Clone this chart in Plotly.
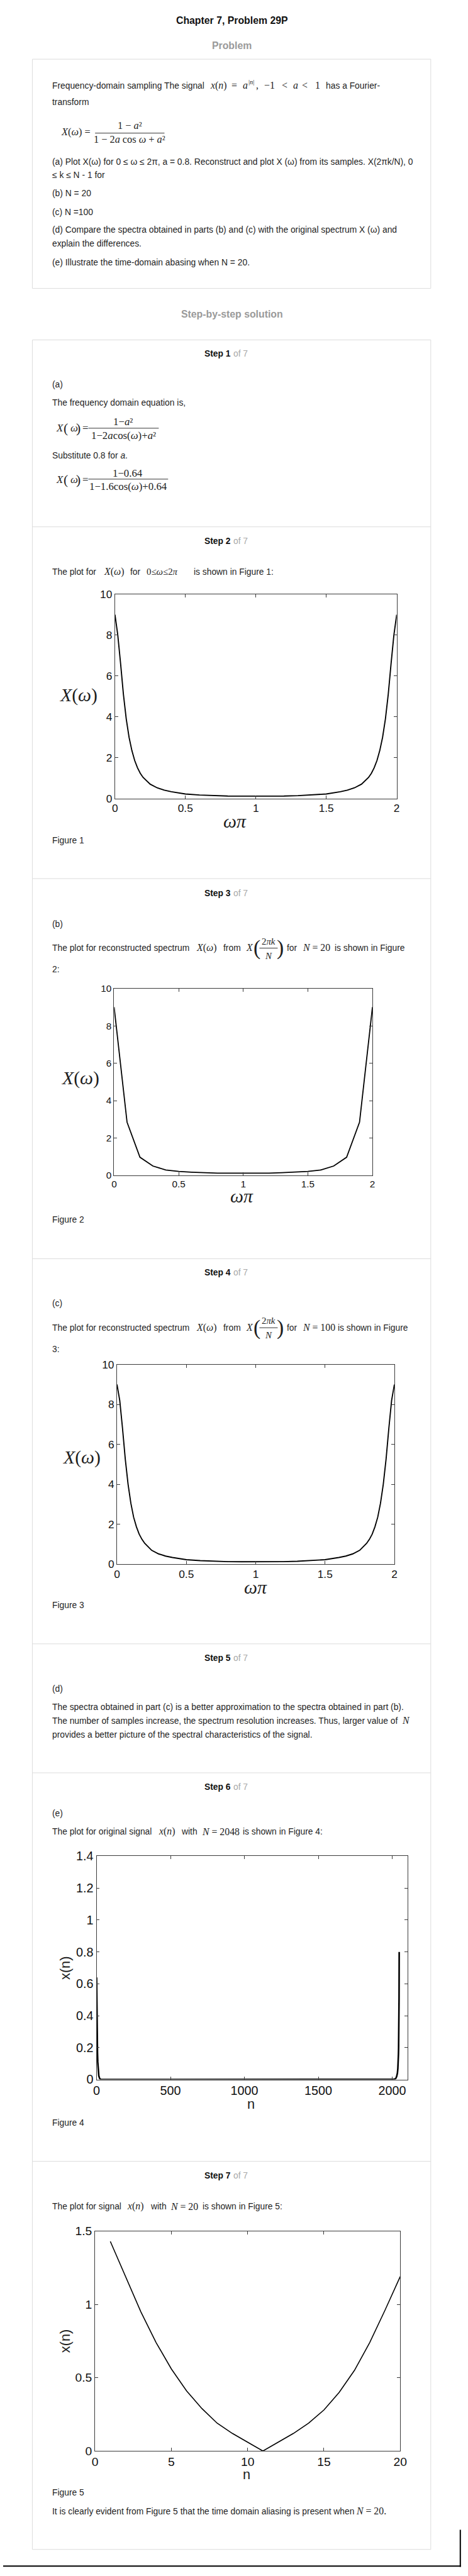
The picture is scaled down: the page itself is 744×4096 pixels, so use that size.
import plotly.graph_objects as go

S = 0.989
W, H = 744, 4096
SANS = "Liberation Sans, Arial, sans-serif"
SERIF = "Liberation Serif, Times New Roman, serif"
TXT = "#1e1e1e"
GRAY = "#9a9a9a"
BORDER = "#dcdcdc"

# ---------------- data ----------------
fig1_w = [0, 0.02, 0.04, 0.06, 0.08, 0.10, 0.12, 0.14, 0.16, 0.18, 0.20,
          0.25, 0.30, 0.35, 0.40, 0.50, 0.60, 0.70, 0.80, 0.90, 1.00,
          1.10, 1.20, 1.30, 1.40, 1.50, 1.60, 1.65, 1.70, 1.75,
          1.80, 1.82, 1.84, 1.86, 1.88, 1.90, 1.92, 1.94, 1.96, 1.98, 2.00]
fig1_X = [9.0, 8.0, 6.6, 5.1, 3.9, 3.0, 2.35, 1.86, 1.5, 1.23, 1.03,
          0.7, 0.52, 0.41, 0.33, 0.22, 0.17, 0.14, 0.12, 0.115, 0.11,
          0.115, 0.12, 0.14, 0.17, 0.22, 0.33, 0.41, 0.52, 0.7,
          1.03, 1.23, 1.5, 1.86, 2.35, 3.0, 3.9, 5.1, 6.6, 8.0, 9.0]

fig2_w = [0.0, 0.1, 0.2, 0.3, 0.4, 0.5, 0.6, 0.7, 0.8, 0.9, 1.0,
          1.1, 1.2, 1.3, 1.4, 1.5, 1.6, 1.7, 1.8, 1.9, 2.0]
fig2_X = [9.0, 2.85, 0.97, 0.5, 0.29, 0.21, 0.17, 0.14, 0.12, 0.115, 0.11,
          0.115, 0.12, 0.14, 0.17, 0.21, 0.29, 0.5, 0.97, 2.85, 9.0]

fig3_w = [0, 0.02, 0.04, 0.06, 0.08, 0.10, 0.12, 0.14, 0.16, 0.18, 0.20,
          0.25, 0.30, 0.35, 0.40, 0.50, 0.60, 0.70, 0.80, 0.90, 1.00,
          1.10, 1.20, 1.30, 1.40, 1.50, 1.60, 1.65, 1.70, 1.75,
          1.80, 1.82, 1.84, 1.86, 1.88, 1.90, 1.92, 1.94, 1.96, 1.98, 2.00]
fig3_X = [9.0, 8.2, 6.8, 5.25, 4.0, 3.05, 2.35, 1.87, 1.5, 1.24, 1.04,
          0.69, 0.51, 0.4, 0.33, 0.22, 0.17, 0.14, 0.12, 0.115, 0.11,
          0.115, 0.12, 0.14, 0.17, 0.22, 0.33, 0.4, 0.51, 0.69,
          1.04, 1.24, 1.5, 1.87, 2.35, 3.05, 4.0, 5.25, 6.8, 8.2, 9.0]

fig4_n = [0, 1, 2, 3, 4, 5, 6, 8, 10, 12, 15, 20, 25, 30, 40,
          500, 1000, 1500, 2000, 2010, 2020, 2025, 2030, 2035, 2038,
          2040, 2042, 2043, 2044, 2045, 2046, 2047]
fig4_x = [0.64, 0.51, 0.41, 0.33, 0.26, 0.21, 0.17, 0.11, 0.07, 0.045,
          0.023, 0.008, 0.002, 0.001, 0.0,
          0.0, 0.0, 0.0, 0.0, 0.001, 0.004, 0.009, 0.02, 0.04, 0.07,
          0.1, 0.16, 0.2, 0.26, 0.41, 0.51, 0.8]

fig5_n = [1, 2, 3, 4, 5, 6, 7, 8, 9, 10, 11, 12, 13, 14, 15, 16, 17, 18, 19, 20]
fig5_x = [1.43, 1.19, 0.95, 0.74, 0.56, 0.41, 0.29, 0.19, 0.12, 0.06, 0.0,
          0.06, 0.12, 0.19, 0.28, 0.40, 0.55, 0.74, 0.96, 1.19]

spec_xticks = [0, 0.5, 1, 1.5, 2]
spec_xlabels = ["0", "0.5", "1", "1.5", "2"]
spec_yticks = [0, 2, 4, 6, 8, 10]
spec_ylabels = ["0", "2", "4", "6", "8", "10"]
fig4_xticks = [0, 500, 1000, 1500, 2000]
fig4_xlabels = ["0", "500", "1000", "1500", "2000"]
fig4_yticks = [0, 0.2, 0.4, 0.6, 0.8, 1.0, 1.2, 1.4]
fig4_ylabels = ["0", "0.2", "0.4", "0.6", "0.8", "1", "1.2", "1.4"]
fig5_xticks = [0, 5, 10, 15, 20]
fig5_xlabels = ["0", "5", "10", "15", "20"]
fig5_yticks = [0, 0.5, 1.0, 1.5]
fig5_ylabels = ["0", "0.5", "1", "1.5"]


# ---------------- helpers ----------------
def px(x):
    return x * S / W


def py(y):
    return 1 - y * S / H


ann = []
shapes = []


def text(x, y, s, size=14, family=SANS, color=TXT, anchor="left", angle=0):
    ann.append(dict(x=px(x), y=py(y), xref="paper", yref="paper", text=s,
                    showarrow=False, xanchor=anchor, yanchor="middle",
                    textangle=angle,
                    font=dict(family=family, size=size * S, color=color)))


def hline(x0, x1, y, color=BORDER, width=1):
    shapes.append(dict(type="line", xref="paper", yref="paper",
                       x0=px(x0), x1=px(x1), y0=py(y), y1=py(y),
                       line=dict(color=color, width=width)))


def vline(x, y0, y1, color=BORDER, width=1):
    shapes.append(dict(type="line", xref="paper", yref="paper",
                       x0=px(x), x1=px(x), y0=py(y0), y1=py(y1),
                       line=dict(color=color, width=width)))


def rect(x0, y0, x1, y1, color=BORDER, width=1):
    shapes.append(dict(type="rect", xref="paper", yref="paper",
                       x0=px(x0), x1=px(x1), y0=py(y1), y1=py(y0),
                       line=dict(color=color, width=width)))


XW = "<i>X</i>(<i>ω</i>)"


def xw_eq(y):
    # X(ω)= with taller brackets, as in the typeset equations
    text(85, y, "<i>X</i>", 17, SERIF)
    text(103, y, "(", 22, SERIF, anchor="center")
    text(108, y, "<i>ω</i>", 17, SERIF)
    text(123.5, y, ")", 22, SERIF, anchor="center")
    text(128.5, y, "=", 17, SERIF)


# ---------------- header & problem ----------------
text(376, 21.7, "<b>Chapter 7, Problem 29P</b>", 16, color="#111", anchor="center")
text(376, 63, "<b>Problem</b>", 16, color=GRAY, anchor="center")
rect(48, 84.5, 702.5, 455)

y = 126.7
text(79, y, "Frequency-domain sampling The signal")
text(338, y, "<i>x</i>(<i>n</i>)", 16, SERIF)
text(373, y, "=", 16, SERIF)
text(392, y, "<i>a</i>", 16, SERIF)
text(400.5, y - 5, "|<i>n</i>|", 10.5, SERIF)
text(413, y, ",", 16, SERIF)
text(427, y, "−1", 16, SERIF)
text(456, y, "<", 16, SERIF)
text(474, y, "<i>a</i>", 16, SERIF)
text(489, y, "<", 16, SERIF)
text(510, y, "1", 16, SERIF)
text(527.6, y, "has a Fourier-")
text(79, 153.3, "transform")

text(93.5, 202, "<i>X</i>(<i>ω</i>) =", 16.5, SERIF)
text(208, 191.7, "1 − <i>a</i>²", 16.5, SERIF, anchor="center")
hline(151, 265, 204, "#333", 1)
text(208, 214, "1 − 2<i>a</i> cos <i>ω</i> + <i>a</i>²", 16.5, SERIF, anchor="center")

text(79, 250, "(a) Plot X(ω) for 0 ≤ ω ≤ 2π, a = 0.8. Reconstruct and plot X (ω) from its samples. X(2πk/N), 0")
text(79, 271.7, "≤ k ≤ N - 1 for")
text(79, 301, "(b) N = 20")
text(79, 331, "(c) N =100")
text(79, 360, "(d) Compare the spectra obtained in parts (b) and (c) with the original spectrum X (ω) and")
text(79, 382.7, "explain the differences.")
text(79, 412.3, "(e) Illustrate the time-domain abasing when N = 20.")

# ---------------- solution container ----------------
text(376, 496.7, "<b>Step-by-step solution</b>", 16, color=GRAY, anchor="center")
rect(48, 538.3, 702.5, 4109.8)
for yd in [840.4, 1409, 2023.5, 2646, 2854.5, 3482.5]:
    hline(48, 702.5, yd)

for n, yh in zip(range(1, 8), [560, 862.6, 1432.4, 2045.5, 2668.3, 2876.9, 3505.4]):
    text(329, yh, "<b>Step %d</b>" % n, 14, color="#111")
    text(376.5, yh, "of 7", 14, color="#a8a8a8")

# Step 1
text(79, 610, "(a)")
text(79, 639.3, "The frequency domain equation is,")
xw_eq(681)
text(196.6, 670.7, "1−<i>a</i>²", 17, SERIF, anchor="center")
hline(140, 255.6, 681, "#333", 1)
text(198, 693.3, "1−2<i>a</i>cos(<i>ω</i>)+<i>a</i>²", 17, SERIF, anchor="center")
text(79, 725, "Substitute 0.8 for <i>a</i>.")
xw_eq(764)
text(205, 753.3, "1−0.64", 17, SERIF, anchor="center")
hline(140, 271, 763.3, "#333", 1)
text(205.5, 775, "1−1.6cos(<i>ω</i>)+0.64", 17, SERIF, anchor="center")

# Step 2
y = 913.2
text(79, y, "The plot for")
text(163, y, XW, 16, SERIF)
text(207, y, "for")
text(233.6, y, "0≤<i>ω</i>≤2<i>π</i>", 15, SERIF)
text(310.8, y, "is shown in Figure 1:")
text(123.5, 1113, XW, 30, SERIF, anchor="center")
text(380.8, 1316.5, "<i>ωπ</i>", 30, SERIF, anchor="center")
text(79, 1347, "Figure 1")


def recon_line(y, yn, yd, ytop, nval, xis):
    text(79, y, "The plot for reconstructed spectrum")
    text(315, y, XW, 16, SERIF)
    text(360, y, "from")
    text(397, y, "<i>X</i>", 16, SERIF)
    text(416.5, y, "(", 34, SERIF, anchor="center")
    text(436, yn, "2<i>πk</i>", 15, SERIF, anchor="center")
    hline(421, 451, ytop, "#333", 1)
    text(436, yd, "<i>N</i>", 15, SERIF, anchor="center")
    text(455, y, ")", 34, SERIF, anchor="center")
    text(464, y, "for")
    text(490, y, "<i>N</i> = %s" % nval, 16, SERIF)
    text(xis, y, "is shown in Figure")


# Step 3
text(79, 1481.8, "(b)")
recon_line(1520.6, 1510.7, 1533.6, 1521.4, "20", 543)
text(79, 1555.4, "2:")
text(127, 1732, XW, 30, SERIF, anchor="center")
text(392.6, 1922.7, "<i>ωπ</i>", 30, SERIF, anchor="center")
text(79, 1960, "Figure 2")

# Step 4
text(79, 2095, "(c)")
recon_line(2134.5, 2124, 2146.7, 2135, "100", 548)
text(79, 2169, "3:")
text(129.5, 2344.7, XW, 30, SERIF, anchor="center")
text(414.4, 2555, "<i>ωπ</i>", 30, SERIF, anchor="center")
text(79, 2583.5, "Figure 3")

# Step 5
text(79, 2718.3, "(d)")
text(79, 2748.3, "The spectra obtained in part (c) is a better approximation to the spectra obtained in part (b).")
text(79, 2770, "The number of samples increase, the spectrum resolution increases. Thus, larger value of")
text(653, 2770, "<i>N</i>", 16, SERIF)
text(79, 2792.7, "provides a better picture of the spectral characteristics of the signal.")

# Step 6
text(79, 2920, "(e)")
y = 2949.6
text(79, y, "The plot for original signal")
text(253, y, "<i>x</i>(<i>n</i>)", 16, SERIF)
text(290, y, "with")
text(324, y, "<i>N</i> = 2048", 16, SERIF)
text(392, y, "is shown in Figure 4:")
text(102, 3170, "x(n)", 22, SANS, anchor="center", angle=-90)
text(406.7, 3389.7, "n", 22, SANS, anchor="center")
text(79, 3419.4, "Figure 4")

# Step 7
y = 3555
text(79, y, "The plot for signal")
text(201, y, "<i>x</i>(<i>n</i>)", 16, SERIF)
text(240, y, "with")
text(273, y, "<i>N</i> = 20", 16, SERIF)
text(326, y, "is shown in Figure 5:")
text(102, 3773, "x(n)", 22, SANS, anchor="center", angle=-90)
text(399.5, 3988.3, "n", 22, SANS, anchor="center")
text(79, 4017.7, "Figure 5")
text(79, 4048, "It is clearly evident from Figure 5 that the time domain aliasing is present when")
text(578, 4048, "<i>N</i> = 20.", 16, SERIF)

# page edge lines
hline(0, 752, 4136.8, "#000", 2)
vline(751, 4078, 4138, "#000", 2)

# ---------------- charts ----------------
charts = [
    (fig1_w, fig1_X, 183.7, 646.5, 949.5, 1279.5, [0, 2], [0, 10],
     spec_xticks, spec_xlabels, spec_yticks, spec_ylabels, 17.5, 1.9),
    (fig2_w, fig2_X, 182.3, 606.7, 1586.6, 1888.7, [0, 2], [0, 10],
     spec_xticks, spec_xlabels, spec_yticks, spec_ylabels, 15.5, 1.8),
    (fig3_w, fig3_X, 187, 642.7, 2194.5, 2517, [0, 2], [0, 10],
     spec_xticks, spec_xlabels, spec_yticks, spec_ylabels, 17.5, 1.9),
    (fig4_n, fig4_x, 153.5, 664.7, 2989.2, 3350.2, [0, 2105], [0, 1.4],
     fig4_xticks, fig4_xlabels, fig4_yticks, fig4_ylabels, 20, 2.6),
    (fig5_n, fig5_x, 151, 652.3, 3595.3, 3950.7, [0, 20], [0, 1.5],
     fig5_xticks, fig5_xlabels, fig5_yticks, fig5_ylabels, 19.5, 1.6),
]

fig = go.Figure()
layout = {}
AX = "#3a3a3a"
for i, (xd, yd, L, R, T, B, xr, yr, xt, xl, yt, yl, fs, lw) in enumerate(charts, start=1):
    sfx = "" if i == 1 else str(i)
    fig.add_trace(go.Scatter(x=xd, y=yd, mode="lines",
                             line=dict(color="#000", width=lw * S),
                             xaxis="x" + sfx, yaxis="y" + sfx,
                             showlegend=False, hoverinfo="skip"))
    common = dict(showline=True, linecolor=AX, linewidth=1, mirror="ticks",
                  ticks="inside", ticklen=5 * S, tickwidth=1, tickcolor=AX,
                  showgrid=False, zeroline=False, fixedrange=True,
                  tickfont=dict(family=SANS, size=fs * S, color="#111"))
    layout["xaxis" + sfx] = dict(domain=[px(L), px(R)], range=xr, tickvals=xt,
                                 ticktext=xl, anchor="y" + sfx, **common)
    layout["yaxis" + sfx] = dict(domain=[py(B), py(T)], range=yr, tickvals=yt,
                                 ticktext=yl, anchor="x" + sfx, **common)

fig.update_layout(width=W, height=H, margin=dict(l=0, r=0, t=0, b=0),
                  paper_bgcolor="white", plot_bgcolor="white",
                  showlegend=False, annotations=ann, shapes=shapes, **layout)

fig.write_html("out.html", config={"displayModeBar": False},
               post_script="document.body.style.margin='0';")
